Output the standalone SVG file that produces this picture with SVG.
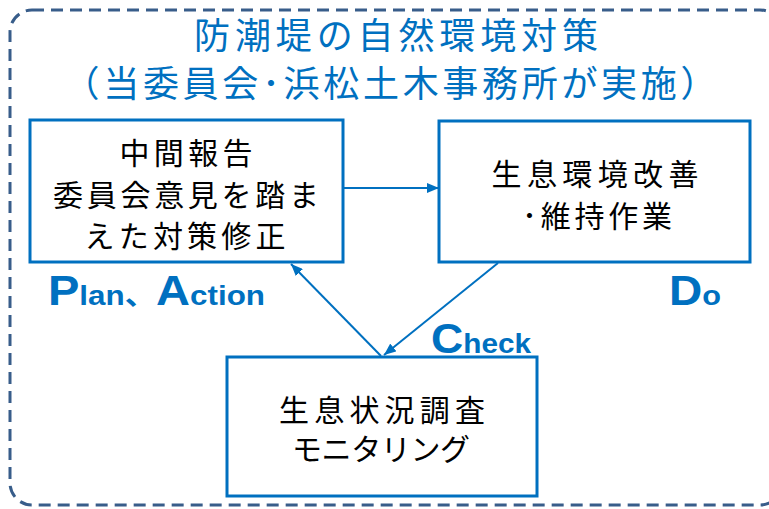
<svg xmlns="http://www.w3.org/2000/svg" width="769" height="509" viewBox="0 0 769 509">
<style>
.frame{fill:none;stroke:#385D8A;stroke-width:3;stroke-dasharray:12 7}
.title{font-family:"Noto Sans CJK JP","Noto Sans CJK SC",sans-serif;font-size:36px;fill:#0070C0;text-anchor:middle}
.box{fill:#fff;stroke:#0070C0;stroke-width:3}
.body{font-family:"Noto Sans CJK JP","Noto Sans CJK SC",sans-serif;font-size:30px;fill:#000;text-anchor:middle}
.lbl{font-family:"Liberation Sans",Arial,sans-serif;font-weight:bold;fill:#0070C0}
.big{font-size:42px}
.sm{font-size:28px}
.conn{stroke:#0070C0;stroke-width:2;fill:none}
</style>
<defs>
<marker id="ah" viewBox="0 0 12 10" refX="12" refY="5" markerWidth="12" markerHeight="10" markerUnits="userSpaceOnUse" orient="auto">
<path d="M0,0 L12,5 L0,10 Z" fill="#0070C0"/>
</marker>
</defs>
<rect class="frame" x="10" y="10" width="772" height="495" rx="22" ry="22"/>
<g id="title">
<text class="title" x="396" y="49" textLength="404" lengthAdjust="spacing">防潮堤の自然環境対策</text>
<text class="title" x="390" y="97" textLength="653" lengthAdjust="spacing">（当委員会･浜松土木事務所が実施）</text>
</g>
<g id="connectors">
<line class="conn" x1="344" y1="188" x2="439" y2="188" marker-end="url(#ah)"/>
<line class="conn" x1="498" y1="263" x2="384" y2="355" marker-end="url(#ah)"/>
<line class="conn" x1="381" y1="356" x2="291" y2="264" marker-end="url(#ah)"/>
</g>
<g id="plan">
<rect class="box" x="30" y="120" width="313" height="142"/>
<text class="body" x="186" y="164" textLength="133" lengthAdjust="spacing">中間報告</text>
<text class="body" x="186" y="206" textLength="266" lengthAdjust="spacing">委員会意見を踏ま</text>
<text class="body" x="185" y="247" textLength="201" lengthAdjust="spacing">えた対策修正</text>
</g>
<g id="do">
<rect class="box" x="439" y="121" width="311" height="141"/>
<text class="body" x="595" y="185" textLength="207" lengthAdjust="spacing">生息環境改善</text>
<text class="body" x="597" y="227" textLength="150" lengthAdjust="spacing">･維持作業</text>
</g>
<g id="check">
<rect class="box" x="227" y="357" width="310" height="139"/>
<text class="body" x="382" y="421" textLength="206" lengthAdjust="spacing">生息状況調査</text>
<text class="body" x="381" y="460" textLength="178" lengthAdjust="spacing">モニタリング</text>
</g>
<g id="labels">
<text class="lbl" x="48" y="305" textLength="217" lengthAdjust="spacingAndGlyphs"><tspan class="big">P</tspan><tspan class="sm">lan</tspan><tspan class="sm" font-family="Noto Sans CJK JP">、</tspan><tspan class="big">A</tspan><tspan class="sm">ction</tspan></text>
<text class="lbl" x="669" y="305" textLength="52" lengthAdjust="spacingAndGlyphs"><tspan class="big">D</tspan><tspan class="sm">o</tspan></text>
<text class="lbl" x="431" y="353" textLength="100" lengthAdjust="spacingAndGlyphs"><tspan class="big">C</tspan><tspan class="sm">heck</tspan></text>
</g>
</svg>
